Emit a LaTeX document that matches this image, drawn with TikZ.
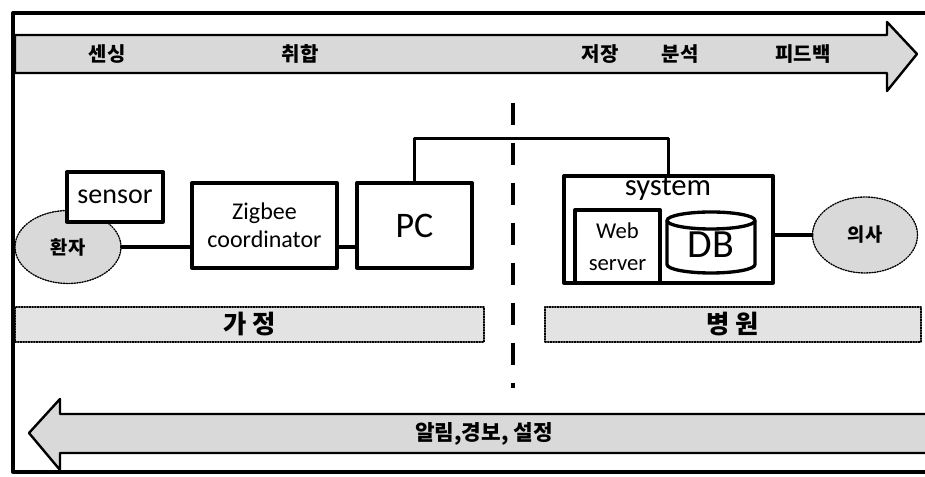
\documentclass[tikz,border=0pt]{standalone}
\usepackage{fontspec}
\setmainfont{Carlito}
\newfontfamily\krfont{Noto Sans CJK KR}
\usetikzlibrary{shapes.geometric}

\begin{document}
\begin{tikzpicture}[x=0.75pt, y=0.75pt, line cap=round, line join=round,
    box/.style={draw, line width=2.5pt, fill=white, inner sep=0pt},
    person/.style={ellipse, draw, densely dotted, line width=1pt, fill=gray!30,
      inner sep=0pt, font=\krfont\bfseries\fontsize{14}{14}\selectfont},
    wire/.style={line width=2.4pt},
    flow/.style={draw, line width=1.8pt, fill=gray!30},
    band/.style={draw, densely dotted, line width=1pt, fill=gray!22, inner sep=0pt,
      font=\krfont\bfseries\fontsize{19}{19}\selectfont},
    kr/.style={font=\krfont\bfseries\fontsize{15}{15}\selectfont}]
  \useasboundingbox (0,0) rectangle (925,477);

  % --- outer frame ---
  \draw[line width=2.5pt] (925,464) -- (13,464) -- (13,5) -- (925,5);

  % --- top arrow: data flow to the hospital ---
  \draw[flow] (15,442) -- (887,442) -- (887,455) -- (917,423) -- (887,386)
        -- (887,404) -- (15,404) -- cycle;
  \node[kr] (sensing) at (107,423) {센싱};
  \node[kr] (collect) at (300,423) {취합};
  \node[kr] (store)   at (600,423) {저장};
  \node[kr] (analyse) at (680,423) {분석};
  \node[kr] (feedback) at (803,423) {피드백};

  % --- bottom arrow: back to the home ---
  \draw[flow] (935,63) -- (60,63) -- (60,78) -- (29,44) -- (60,7)
        -- (60,24) -- (935,24) -- cycle;
  \node[kr, font=\krfont\bfseries\fontsize{16}{16}\selectfont] (alarm) at (484,43) {알림,경보, 설정};

  % --- home / hospital bands ---
  \node[band, minimum width=351.75pt, minimum height=26.25pt] (home) at (249.5,152.5) {가 정};
  \node[band, minimum width=282pt, minimum height=26.25pt] (hospital) at (733,152.5) {병 원};

  % --- divider ---
  \coordinate (divtop) at (513,374);
  \coordinate (divbot) at (513,89);
  \draw[line width=3pt, line cap=butt, dash pattern=on 16.5pt off 13.5pt] (divtop) -- (divbot);

  % --- home side ---
  \node[person, minimum width=79.5pt, minimum height=54.75pt] (patient) at (68,230) {환자};
  \node[box, minimum width=72pt, minimum height=37.5pt, font=\fontsize{21}{21}\selectfont]
       (sensor) at (115,280) {sensor};
  \node[box, minimum width=108.75pt, minimum height=63.75pt, align=center,
        font=\fontsize{18}{21}\selectfont] (zigbee) at (264.5,251.5) {Zigbee\\coordinator};
  \node[box, minimum width=86.25pt, minimum height=63.75pt, font=\fontsize{27}{27}\selectfont]
       (pc) at (414.5,251.5) {PC};
  \draw[wire] (patient.east) -- (patient.east -| zigbee.west);
  \draw[wire] (zigbee.east |- patient.east) -- (pc.west |- patient.east);

  % --- hospital side ---
  \node[box, minimum width=156.75pt, minimum height=80.25pt] (system) at (668.5,247.5) {};
  \node[font=\fontsize{23}{23}\selectfont] (systitle) at (668,289) {system};
  \node[box, minimum width=63.75pt, minimum height=54.75pt, align=center,
        font=\fontsize{17}{24}\selectfont] (web) at (617.5,230.5) {Web\\server};
  \draw[line width=2.5pt, fill=white] (667,256.5) -- (667,212.5)
        arc[start angle=180, end angle=360, x radius=44, y radius=8.5] -- (755,256.5);
  \draw[line width=2.5pt] (711,256.5) ellipse[x radius=44, y radius=8.5];
  \node[font=\fontsize{30}{30}\selectfont] (db) at (711,232) {DB};
  \node[person, minimum width=78.75pt, minimum height=57pt] (doctor) at (865,242) {의사};
  \draw[wire] (pc.north) -- ++(0,43) -| (system.north);
  \draw[wire] (doctor.west -| system.east) -- (doctor.west);
\end{tikzpicture}
\end{document}
